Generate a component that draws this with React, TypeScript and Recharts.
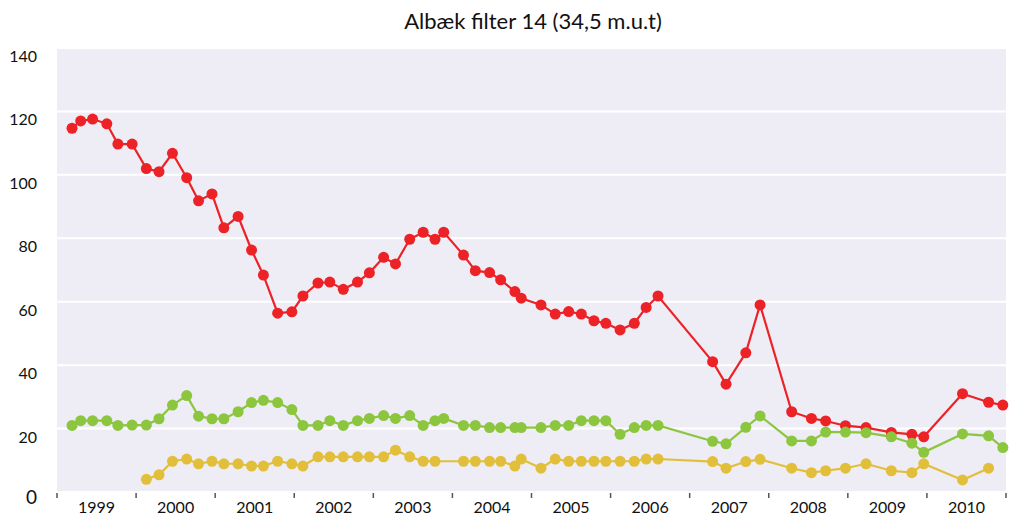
import React from 'react';
import { LineChart, Line, XAxis, YAxis, CartesianGrid } from 'recharts';

// sampling dates as decimal years
const dates = [
  1999.19, 1999.30, 1999.45, 1999.63, 1999.77, 1999.95,
  2000.13, 2000.29, 2000.46, 2000.64, 2000.79, 2000.96,
  2001.11, 2001.29, 2001.46, 2001.61, 2001.79, 2001.97,
  2002.11, 2002.30, 2002.45, 2002.62, 2002.80, 2002.95,
  2003.13, 2003.28, 2003.46, 2003.63, 2003.78, 2003.89,
  2004.14, 2004.29, 2004.47, 2004.61, 2004.79, 2004.87,
  2005.12, 2005.30, 2005.47, 2005.63, 2005.79, 2005.94,
  2006.12, 2006.30, 2006.45, 2006.60,
  2007.29, 2007.46, 2007.71, 2007.89,
  2008.29, 2008.54, 2008.72, 2008.97,
  2009.23, 2009.55, 2009.81, 2009.96,
  2010.45, 2010.78, 2010.96,
];

const red = [
  114.7, 117.0, 117.6, 116.1, 109.7, 109.7,
  102.0, 101.0, 106.8, 99.1, 91.8, 94.0,
  83.3, 86.9, 76.3, 68.4, 56.4, 56.8,
  61.8, 65.9, 66.2, 63.9, 66.2, 69.1,
  74.0, 71.9, 79.7, 81.9, 79.7, 81.9,
  74.7, 69.8, 69.2, 66.9, 63.2, 61.1,
  59.0, 56.1, 56.9, 56.1, 54.0, 53.2,
  51.1, 53.2, 58.2, 61.8,
  41.1, 34.0, 43.9, 59.0,
  25.3, 23.2, 22.4, 20.9,
  20.3, 18.8, 18.2, 17.4,
  31.0, 28.3, 27.4,
];

const green = [
  21.0, 22.5, 22.5, 22.5, 21.0, 21.1,
  21.1, 23.1, 27.4, 30.4, 23.9, 23.1,
  23.1, 25.3, 28.2, 28.9, 28.2, 26.0,
  21.0, 21.0, 22.5, 21.0, 22.5, 23.2,
  24.1, 23.2, 24.1, 21.0, 22.5, 23.2,
  21.0, 21.0, 20.3, 20.3, 20.3, 20.3,
  20.3, 21.0, 21.0, 22.5, 22.5, 22.5,
  18.2, 20.3, 21.0, 21.0,
  16.0, 15.2, 20.4, 24.0,
  16.1, 16.1, 18.9, 18.9,
  18.7, 17.4, 15.4, 12.5,
  18.3, 17.7, 14.0,
];

const yellow = [
  null, null, null, null, null, null,
  4.0, 5.4, 9.7, 10.4, 8.9, 9.7,
  8.9, 8.9, 8.2, 8.2, 9.7, 8.9,
  8.2, 11.1, 11.1, 11.1, 11.1, 11.1,
  11.1, 13.2, 11.1, 9.7, 9.7, null,
  9.7, 9.7, 9.7, 9.7, 8.2, 10.4,
  7.5, 10.4, 9.7, 9.7, 9.7, 9.7,
  9.7, 9.7, 10.4, 10.4,
  9.6, 7.5, 9.6, 10.3,
  7.5, 6.1, 6.7, 7.5,
  8.9, 6.7, 6.1, 8.9,
  3.8, 7.5, null,
];

const yTicks = [0, 20, 40, 60, 80, 100, 120, 140];
const yearStarts = [1999, 2000, 2001, 2002, 2003, 2004, 2005, 2006, 2007, 2008, 2009, 2010, 2011];
const yearLabels = [1999, 2000, 2001, 2002, 2003, 2004, 2005, 2006, 2007, 2008, 2009, 2010];

const data = dates.map((t, i) => ({ t, red: red[i], green: green[i], yellow: yellow[i] }));
const xTicks = [...yearStarts, ...yearLabels.map(y => y + 0.5)].sort((a, b) => a - b);

const font = 'Lato, "Open Sans", sans-serif';

const XTick = (props: any) => {
  const { x, y, payload } = props;
  const v = payload.value;
  if (Number.isInteger(v)) {
    return <line x1={x} x2={x} y1={y + 1} y2={y + 6} stroke="#555" strokeWidth={1.5} />;
  }
  return (
    <text x={x} y={y + 21} textAnchor="middle" fontSize={16} fontFamily={font} fill="#111">
      {Math.floor(v)}
    </text>
  );
};

const YTick = (props: any) => {
  const { x, y, payload } = props;
  const zero = payload.value === 0;
  return (
    <text x={x} y={y + (zero ? 12 : 14)} textAnchor="end" fontSize={zero ? 19 : 16} fontFamily={font} fill="#111">
      {payload.value}
    </text>
  );
};

const dot = (c: string) => ({ r: 5.5, fill: c, stroke: c, strokeWidth: 0 });

const App: React.FC = () => {
  return (
    <div style={{ position: 'absolute', left: 0, top: 0, width: 1010, height: 516, background: '#fff' }}>
      <div style={{ position: 'absolute', left: 0, top: 7, width: 1066, textAlign: 'center', fontFamily: font, fontSize: 22, color: '#111' }}>
        Albæk filter 14 (34,5 m.u.t)
      </div>
      <LineChart width={1010} height={516} data={data} margin={{ top: 48, right: 4, left: 0, bottom: 0 }}>
        <CartesianGrid vertical={false} fill="#EEECF5" stroke="#ffffff" strokeWidth={2} />
        <XAxis
          dataKey="t"
          type="number"
          domain={[1999, 2011]}
          ticks={xTicks}
          interval={0}
          axisLine={false}
          tickLine={false}
          tickSize={0}
          tickMargin={0}
          height={24}
          tick={<XTick />}
        />
        <YAxis
          domain={[0, 140]}
          ticks={yTicks}
          interval={0}
          axisLine={false}
          tickLine={false}
          tickSize={0}
          tickMargin={20}
          width={57}
          tick={<YTick />}
        />
        <Line dataKey="red" stroke="#EC2227" strokeWidth={2.2} dot={dot('#EC2227')} activeDot={false} isAnimationActive={false} />
        <Line dataKey="green" stroke="#8CC63F" strokeWidth={2.2} dot={dot('#8CC63F')} activeDot={false} isAnimationActive={false} />
        <Line dataKey="yellow" stroke="#E2BF3B" strokeWidth={2.2} dot={dot('#E2BF3B')} activeDot={false} connectNulls isAnimationActive={false} />
      </LineChart>
    </div>
  );
};

export default App;
